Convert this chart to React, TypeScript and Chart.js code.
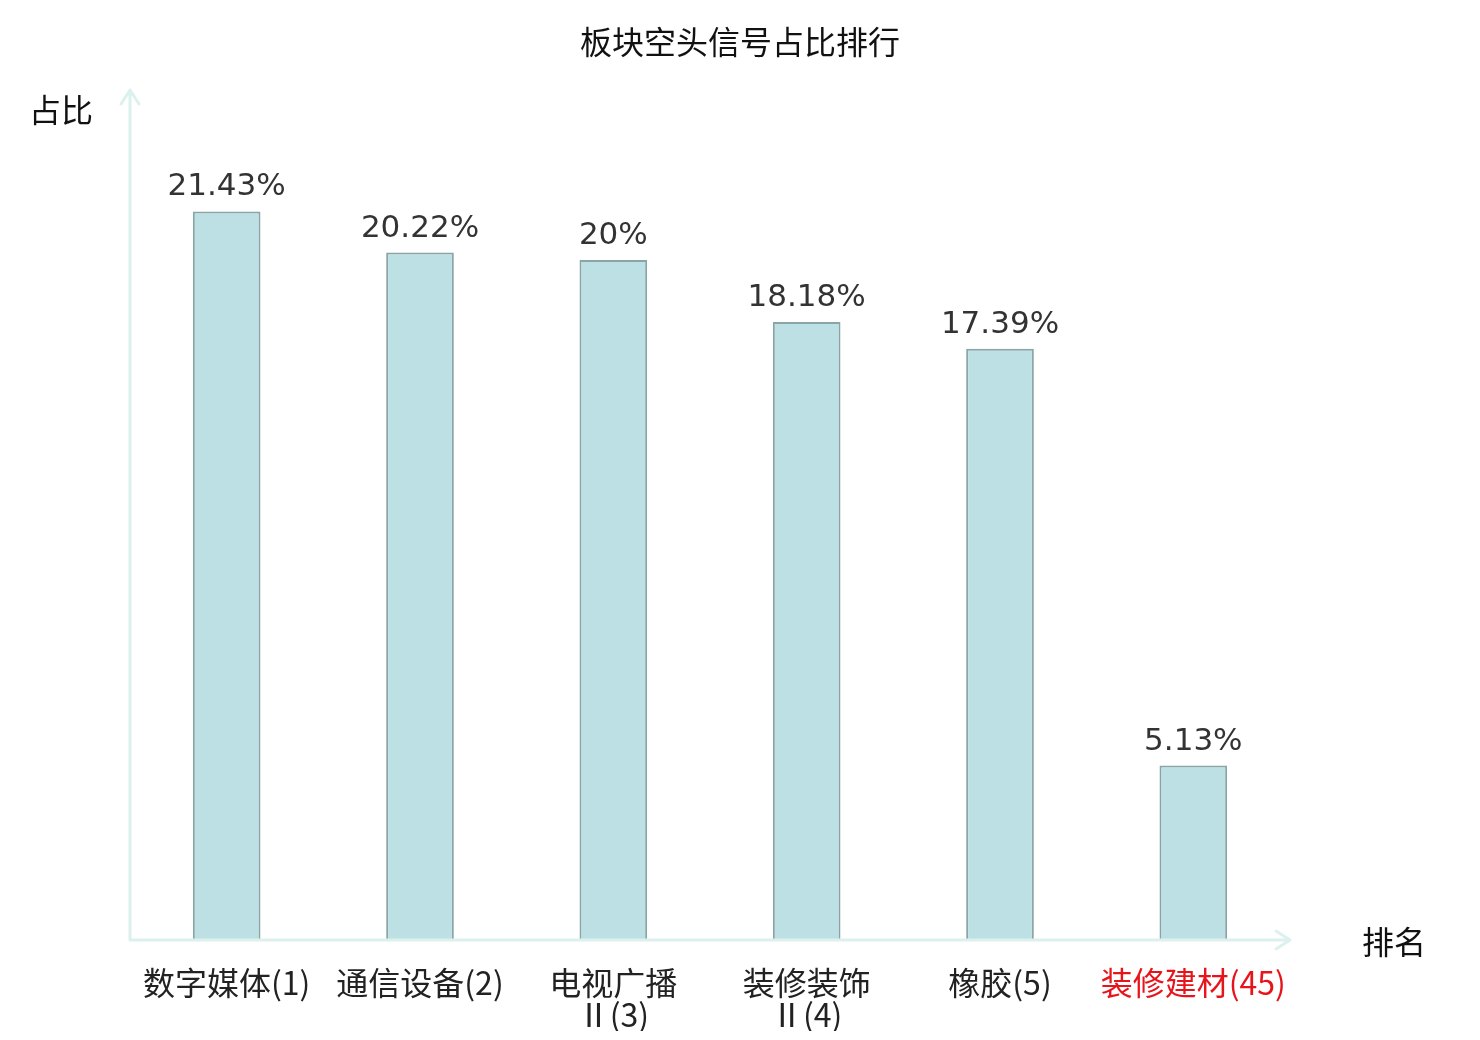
import { useEffect, useRef } from 'react';
import { Chart, registerables, ChartConfiguration, Plugin } from 'chart.js';

Chart.register(...registerables);

const categories: (string | string[])[] = [
  '数字媒体(1)',
  '通信设备(2)',
  ['电视广播', 'Ⅱ(3)'],
  ['装修装饰', 'Ⅱ(4)'],
  '橡胶(5)',
  '装修建材(45)',
];
const shares = [21.43, 20.22, 20, 18.18, 17.39, 5.13];
const shareLabels = ['21.43%', '20.22%', '20%', '18.18%', '17.39%', '5.13%'];
const labelColors = ['#222', '#222', '#222', '#222', '#222', '#e8141b'];

const CJK = '"Noto Sans CJK SC", "Noto Sans", sans-serif';
const AXIS_COLOR = '#dcf1ee';

// title, axis lines with arrow heads, axis names, value labels
const decorPlugin: Plugin<'bar'> = {
  id: 'decor',
  afterDatasetsDraw(chart) {
    const { ctx, chartArea, width } = chart;
    const { left, right, top, bottom } = chartArea;
    ctx.save();

    ctx.fillStyle = '#111';
    ctx.font = `32px ${CJK}`;
    ctx.textAlign = 'center';
    ctx.textBaseline = 'middle';
    ctx.fillText('板块空头信号占比排行', width / 2, 42);

    ctx.strokeStyle = AXIS_COLOR;
    ctx.lineWidth = 3;
    ctx.lineCap = 'round';
    ctx.lineJoin = 'round';
    ctx.beginPath();
    ctx.moveTo(left, bottom);
    ctx.lineTo(left, top);
    ctx.moveTo(left - 9, top + 14);
    ctx.lineTo(left, top);
    ctx.lineTo(left + 9, top + 14);
    ctx.moveTo(left, bottom);
    ctx.lineTo(right, bottom);
    ctx.moveTo(right - 14, bottom - 9);
    ctx.lineTo(right, bottom);
    ctx.lineTo(right - 14, bottom + 9);
    ctx.stroke();

    ctx.fillStyle = '#111';
    ctx.font = `32px ${CJK}`;
    ctx.textAlign = 'right';
    ctx.fillText('占比', left - 37, top + 20);
    ctx.textAlign = 'left';
    ctx.fillText('排名', right + 72, bottom + 2);

    const meta = chart.getDatasetMeta(0);
    ctx.fillStyle = '#333';
    ctx.font = '31px "DejaVu Sans", sans-serif';
    ctx.textAlign = 'center';
    ctx.textBaseline = 'alphabetic';
    meta.data.forEach((bar, i) => {
      ctx.fillText(shareLabels[i], bar.x, bar.y - 16);
    });
    ctx.restore();
  },
};

export default function App() {
  const canvasRef = useRef<HTMLCanvasElement>(null);
  const chartRef = useRef<Chart | null>(null);

  useEffect(() => {
    document.body.style.margin = '0';
    if (!canvasRef.current) return;
    if (chartRef.current) chartRef.current.destroy();

    chartRef.current = new Chart(canvasRef.current, {
      type: 'bar',
      data: {
        labels: categories,
        datasets: [
          {
            data: shares,
            backgroundColor: '#bce0e3',
            borderColor: '#89a5a6',
            borderWidth: 2,
            barPercentage: 0.35,
            categoryPercentage: 1,
          },
        ],
      },
      options: {
        responsive: false,
        animation: false,
        layout: { padding: { left: 130, right: 190, top: 90, bottom: 9 } },
        plugins: {
          legend: { display: false },
          tooltip: { enabled: false },
          title: { display: false },
        },
        scales: {
          x: {
            grid: { display: false, drawTicks: false },
            border: { display: false },
            ticks: {
              color: (c: any) => labelColors[c.index] ?? '#222',
              font: { family: CJK, size: 32, lineHeight: 1.0 },
              padding: 27,
              maxRotation: 0,
              autoSkip: false,
            },
            afterFit: (scale: any) => {
              scale.height = 91;
            },
          },
          y: {
            display: false,
            min: 0,
            max: 25,
          },
        },
      },
      plugins: [decorPlugin],
    } as ChartConfiguration<'bar'>);

    return () => {
      if (chartRef.current) {
        chartRef.current.destroy();
        chartRef.current = null;
      }
    };
  }, []);

  return (
    <div style={{ width: 1480, height: 1040, background: '#fff' }}>
      <canvas ref={canvasRef} width={1480} height={1040} />
    </div>
  );
}
